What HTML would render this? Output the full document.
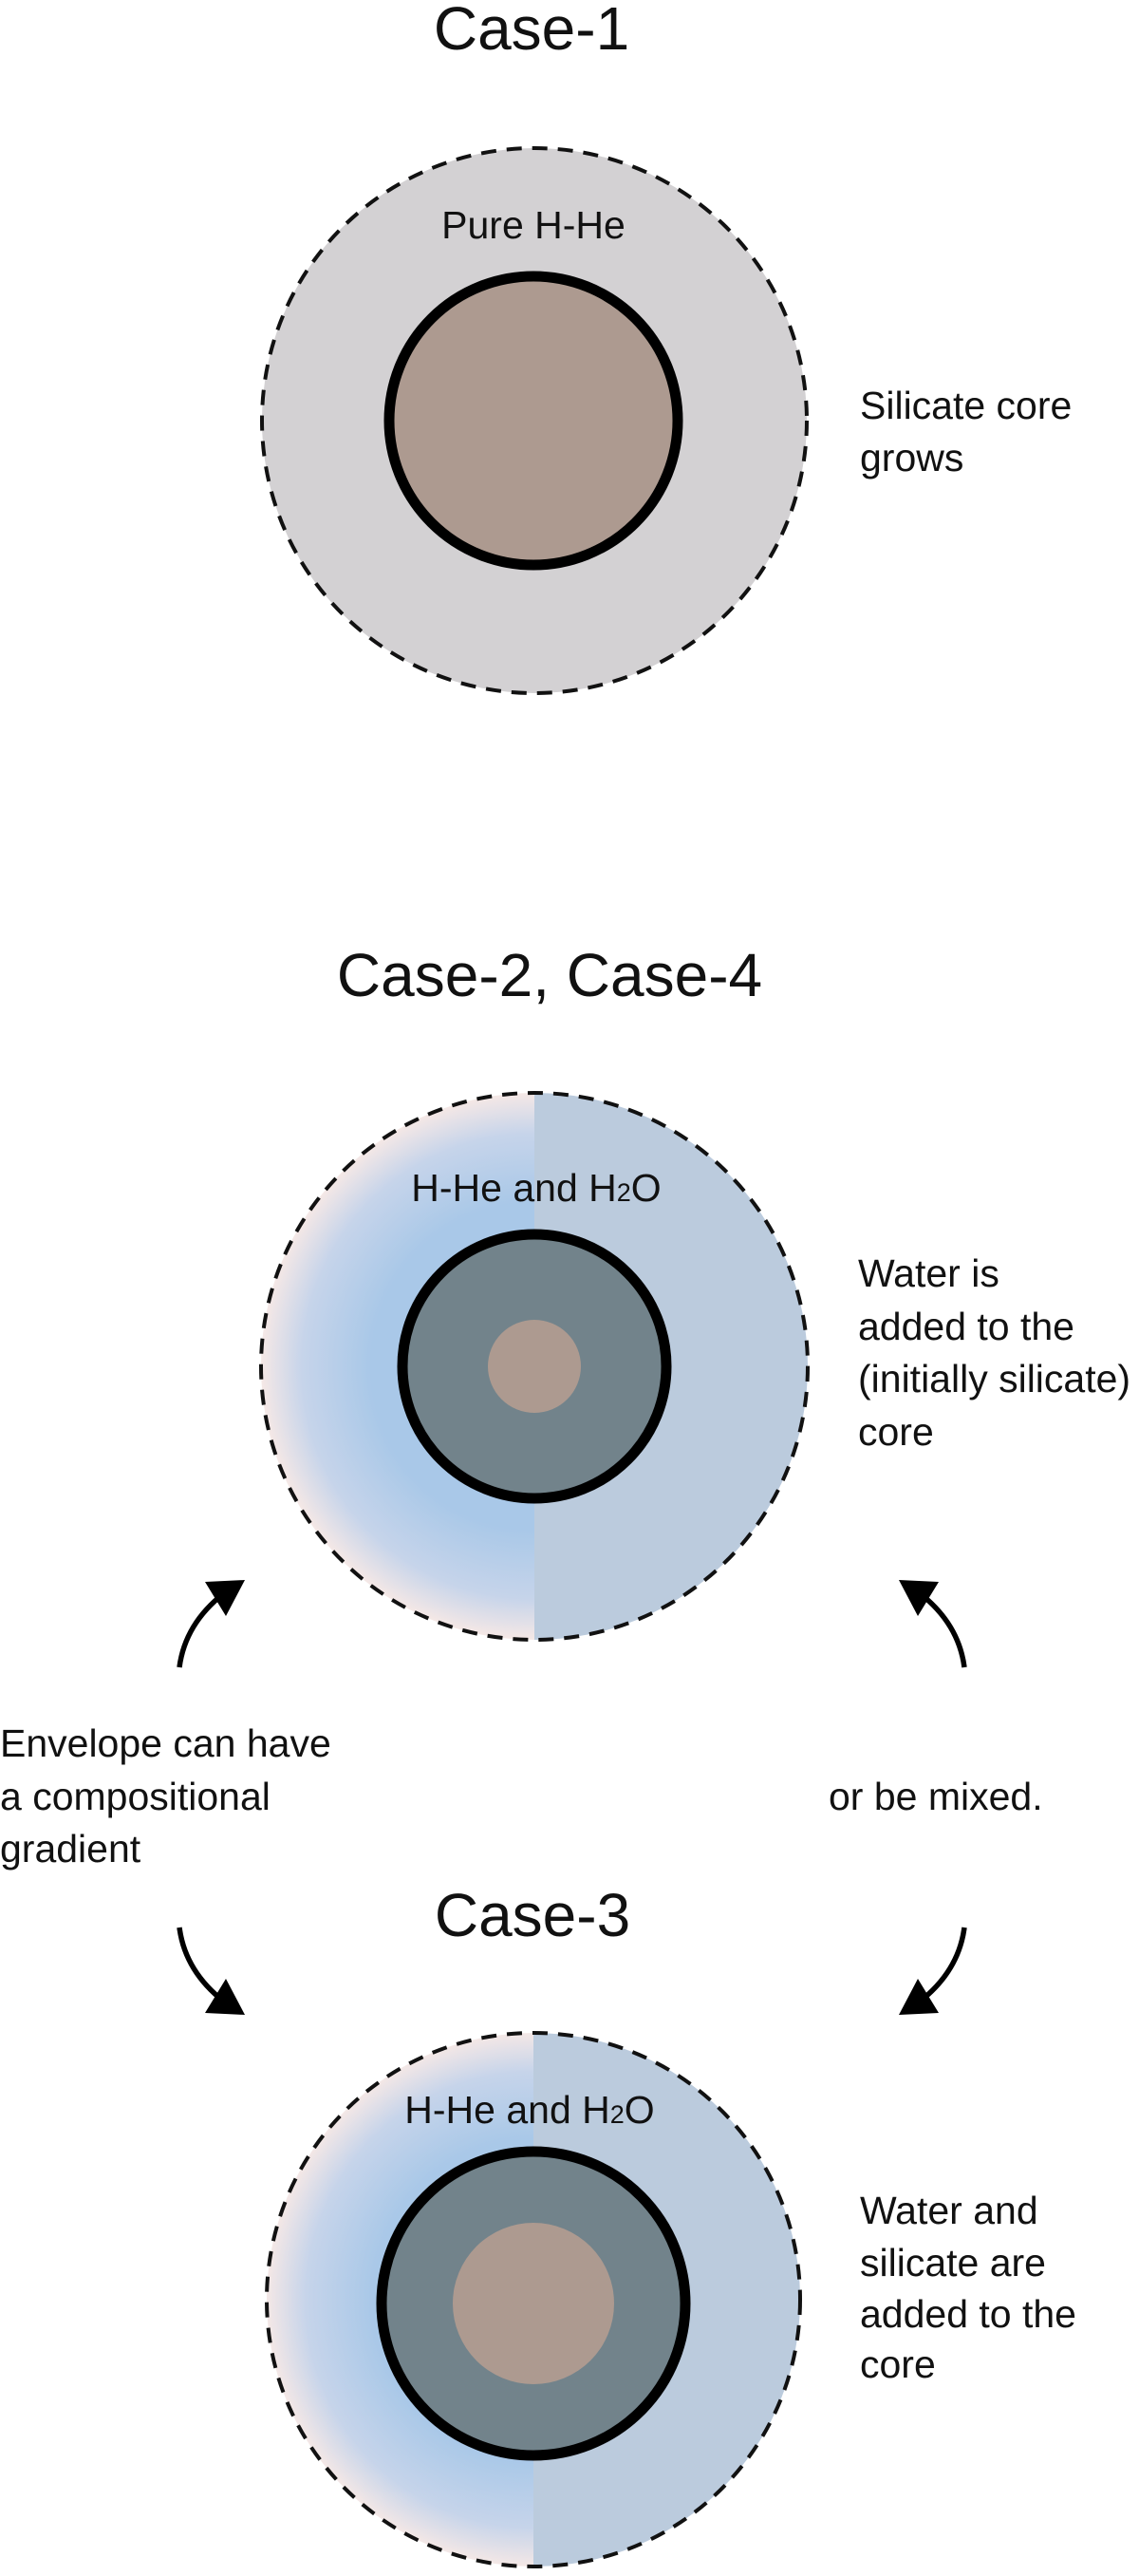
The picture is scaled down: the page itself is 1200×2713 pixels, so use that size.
<!DOCTYPE html>
<html><head><meta charset="utf-8"><style>
html,body{margin:0;padding:0;background:#fff}
svg{display:block}
text{font-family:"Liberation Sans",sans-serif;fill:#111}
</style></head><body>
<svg width="1200" height="2713" viewBox="0 0 1200 2713" xmlns="http://www.w3.org/2000/svg">
<defs>
<radialGradient id="g1" cx="563" cy="1439" r="288" gradientUnits="userSpaceOnUse">
<stop offset="0" stop-color="#a8c7e8"/><stop offset="0.6" stop-color="#a9c8e8"/><stop offset="0.85" stop-color="#c6d4ea"/><stop offset="1" stop-color="#f5e8e6"/>
</radialGradient>
<radialGradient id="g2" cx="562" cy="2422" r="282" gradientUnits="userSpaceOnUse">
<stop offset="0" stop-color="#a8c7e8"/><stop offset="0.6" stop-color="#a9c8e8"/><stop offset="0.85" stop-color="#c6d4ea"/><stop offset="1" stop-color="#f5e8e6"/>
</radialGradient>
<clipPath id="l1"><rect x="0" y="1100" width="563" height="700"/></clipPath>
<clipPath id="r1"><rect x="563" y="1100" width="600" height="700"/></clipPath>
<clipPath id="l2"><rect x="0" y="2100" width="562" height="613"/></clipPath>
<clipPath id="r2"><rect x="562" y="2100" width="600" height="613"/></clipPath>
<g id="arr"><path d="M189 1756 Q195 1710 236 1678" fill="none" stroke="#000" stroke-width="5.5"/><polygon points="258,1664 216,1666 238,1702" fill="#000"/></g>
</defs>

<text x="560" y="52" font-size="64" text-anchor="middle">Case-1</text>
<circle cx="563" cy="443" r="287" fill="#d3d1d3" stroke="#111" stroke-width="4" stroke-dasharray="16 11"/>
<text x="562" y="251" font-size="41" text-anchor="middle">Pure H-He</text>
<circle cx="562" cy="443" r="152" fill="#ad9a90" stroke="#000" stroke-width="11"/>
<text x="906" y="441" font-size="41">Silicate core</text>
<text x="906" y="496" font-size="41">grows</text>

<text x="579" y="1049" font-size="64" text-anchor="middle">Case-2, Case-4</text>
<circle cx="563" cy="1439" r="288" fill="url(#g1)" clip-path="url(#l1)"/>
<circle cx="563" cy="1439" r="288" fill="#bbcbdd" clip-path="url(#r1)"/>
<circle cx="563" cy="1439" r="288" fill="none" stroke="#111" stroke-width="4" stroke-dasharray="16 11"/>
<text x="565" y="1265" font-size="41" text-anchor="middle">H-He and H<tspan font-size="27">2</tspan>O</text>
<circle cx="563" cy="1439" r="139" fill="#72838b" stroke="#000" stroke-width="11"/>
<circle cx="563" cy="1439" r="49" fill="#ad9a90"/>
<text x="904" y="1355" font-size="41">Water is</text>
<text x="904" y="1411" font-size="41">added to the</text>
<text x="904" y="1466" font-size="41">(initially silicate)</text>
<text x="904" y="1522" font-size="41">core</text>

<use href="#arr"/>
<use href="#arr" transform="translate(1205,0) scale(-1,1)"/>
<use href="#arr" transform="translate(0,3786) scale(1,-1)"/>
<use href="#arr" transform="translate(1205,3786) scale(-1,-1)"/>

<text x="0" y="1850" font-size="41">Envelope can have</text>
<text x="0" y="1906" font-size="41">a compositional</text>
<text x="0" y="1961" font-size="41">gradient</text>
<text x="873" y="1906" font-size="41">or be mixed.</text>

<text x="561" y="2039" font-size="64" text-anchor="middle">Case-3</text>
<circle cx="562" cy="2422" r="281" fill="url(#g2)" clip-path="url(#l2)"/>
<circle cx="562" cy="2422" r="281" fill="#bbcbdd" clip-path="url(#r2)"/>
<circle cx="562" cy="2422" r="281" fill="none" stroke="#111" stroke-width="4" stroke-dasharray="16 11"/>
<text x="558" y="2236" font-size="41" text-anchor="middle">H-He and H<tspan font-size="27">2</tspan>O</text>
<circle cx="562" cy="2426" r="160" fill="#72838b" stroke="#000" stroke-width="11"/>
<circle cx="562" cy="2426" r="85" fill="#ad9a90"/>
<text x="906" y="2342" font-size="41">Water and</text>
<text x="906" y="2397" font-size="41">silicate are</text>
<text x="906" y="2451" font-size="41">added to the</text>
<text x="906" y="2504" font-size="41">core</text>
</svg>
</body></html>
